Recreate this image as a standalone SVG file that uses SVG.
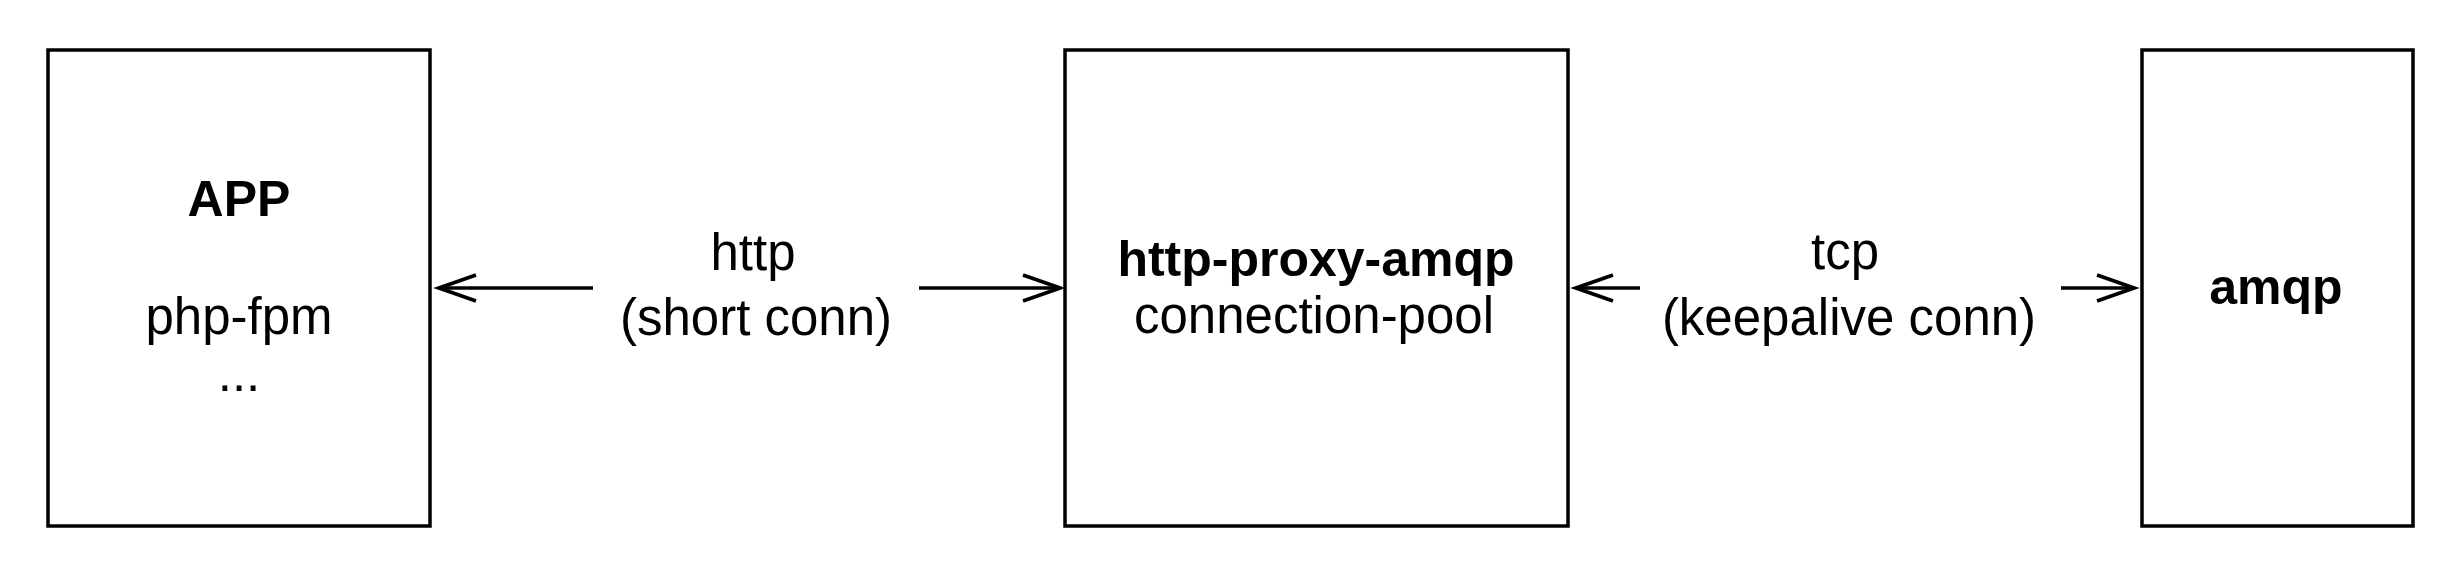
<svg xmlns="http://www.w3.org/2000/svg" width="2458" height="570" viewBox="0 0 2458 570">
<style>
.box{fill:#fff;stroke:#000;stroke-width:3.5}
.t{font-family:"Liberation Sans",Arial,sans-serif;font-size:51px;fill:#000;text-anchor:middle}
.b{font-weight:bold;font-size:50px}
.c{stroke:#000;stroke-width:3.5;fill:none}
</style>
<defs>
<marker id="ah" markerUnits="userSpaceOnUse" markerWidth="50" markerHeight="40" viewBox="-40 -20 50 40" refX="0" refY="0" orient="auto">
<path d="M-37,-13 L0,0 L-37,13" fill="none" stroke="#000" stroke-width="3.8"/>
</marker>
</defs>
<rect width="2458" height="570" fill="#fff"/>
<g id="app">
<rect class="box" x="48" y="50" width="382" height="476"/>
<text class="t b" x="239" y="216">APP</text>
<text class="t" x="239" y="334">php-fpm</text>
<text class="t" x="239" y="391">...</text>
</g>
<g id="proxy">
<rect class="box" x="1065" y="50" width="503" height="476"/>
<text class="t b" x="1316" y="276">http-proxy-amqp</text>
<text class="t" x="1314" y="333">connection-pool</text>
</g>
<g id="amqp">
<rect class="box" x="2142" y="50" width="271" height="476"/>
<text class="t b" x="2276" y="304">amqp</text>
</g>
<g id="connectors">
<line class="c" x1="593" y1="288" x2="439" y2="288" marker-end="url(#ah)"/>
<line class="c" x1="919" y1="288" x2="1060" y2="288" marker-end="url(#ah)"/>
<line class="c" x1="1640" y1="288" x2="1576" y2="288" marker-end="url(#ah)"/>
<line class="c" x1="2061" y1="288" x2="2134" y2="288" marker-end="url(#ah)"/>
<text class="t" x="753" y="270">http</text>
<text class="t" x="756" y="335">(short conn)</text>
<text class="t" x="1845" y="269">tcp</text>
<text class="t" x="1849" y="335">(keepalive conn)</text>
</g>
</svg>
